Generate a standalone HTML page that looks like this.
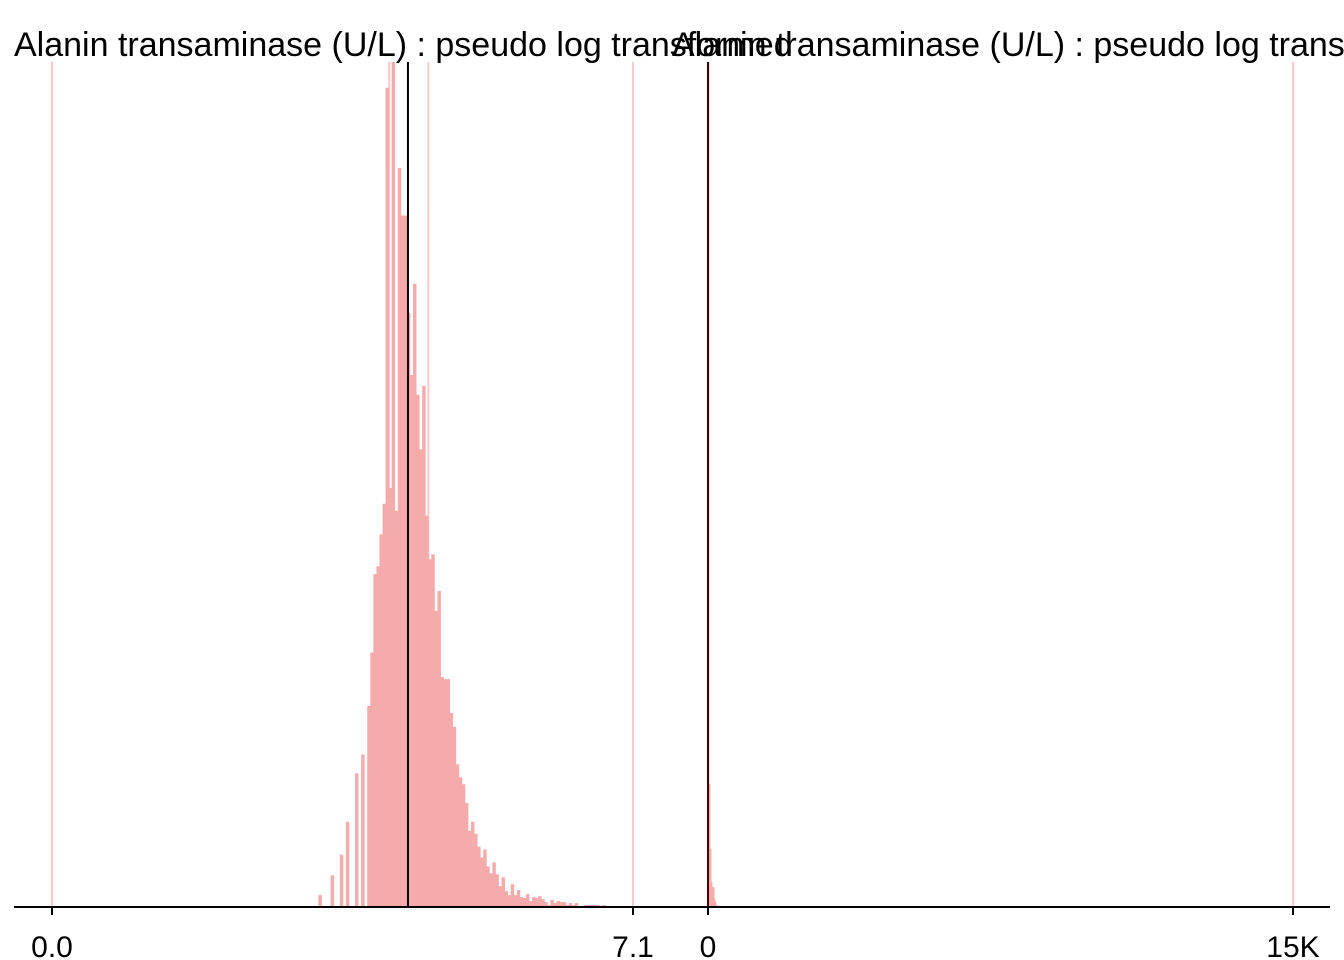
<!DOCTYPE html>
<html><head><meta charset="utf-8"><style>
html,body{margin:0;padding:0;background:#fff;}
svg{display:block;font-family:"Liberation Sans",Arial,sans-serif;}
</style></head><body>
<svg id="chart" width="1344" height="960" viewBox="0 0 1344 960" xmlns="http://www.w3.org/2000/svg">
<g id="left-panel"></g>
<g id="right-panel"></g>
<line x1="14" y1="907" x2="1330" y2="907" stroke="#000" stroke-width="2"/>
<text x="14" y="56" font-size="34">Alanin transaminase (U/L) : pseudo log transformed</text>
<text x="672" y="56" font-size="34">Alanin transaminase (U/L) : pseudo log transformed</text>
</svg>
<script>
// Left panel: pseudo-log transformed histogram
const leftDomain = [0, 7.1];
const leftTickValues = [0, 7.1];
const leftTickLabels = ["0.0", "7.1"];
const leftBinStart = 2.92;
const leftBinWidth = 0.0373;
const leftCounts = [0,1,0,0,0,0,0,0,0,12,0,0,0,32,0,0,53,0,86,0,0,135,0,154,0,203,257,336,344,376,407,827,423,853,400,746,698,698,600,537,629,517,462,526,395,351,356,299,319,232,230,230,196,182,144,131,124,105,77,86,74,61,50,58,41,34,45,33,21,30,16,12,23,12,17,10,9,13,6,10,9,11,8,5,2,7,4,6,5,5,2,4,2,4,0,0,2,2,2,2,2,0,2];
const leftRefLines = [0, 4.12, 4.6, 7.1];
const leftMedian = 4.35;

// Right panel: raw scale histogram
const rightDomain = [0, 15000];
const rightTickValues = [0, 15000];
const rightTickLabels = ["0", "15K"];
const rightBinWidth = 26;
const rightCounts = [860, 124, 59, 25, 20, 20, 8, 5, 2, 1, 1];
const rightRefLines = [0, 15000];
const rightMedian = 0;

const NS = "http://www.w3.org/2000/svg";
const baseY = 907, topY = 62;
const maxCount = 853, plotH = 845;
function yScale(c){ return baseY - c / maxCount * plotH; }
function mk(tag, attrs, parent){
  const el = document.createElementNS(NS, tag);
  for (const k in attrs) el.setAttribute(k, attrs[k]);
  parent.appendChild(el);
  return el;
}
function drawPanel(g, domain, px, counts, binStart, binWidth, refLines, median, ticks, labels, prefix){
  const xs = v => px[0] + (v - domain[0]) / (domain[1] - domain[0]) * (px[1] - px[0]);
  refLines.forEach(v => {
    const l = mk("line", {x1: xs(v), x2: xs(v), y1: topY, y2: baseY, stroke: "#ffc8c8", "stroke-width": 2}, g);
    
    
  });
  counts.forEach((c, i) => {
    if (c <= 0) return;
    const x0 = xs(binStart + i * binWidth), x1 = xs(binStart + (i + 1) * binWidth);
    const y = Math.max(topY, yScale(c));
    const r = mk("rect", {x: x0, y: y, width: Math.max(1, x1 - x0 + 0.4), height: baseY - y, fill: "#f5abab"}, g);
    
    
  });
  const m = mk("line", {x1: xs(median), x2: xs(median), y1: topY, y2: baseY, stroke: prefix === "right" ? "#4a0000" : "#000", "stroke-width": 2}, g);
  
  
  ticks.forEach((v, i) => {
    const t = mk("line", {x1: xs(v), x2: xs(v), y1: baseY, y2: 915, stroke: "#000", "stroke-width": 2}, g);
    
    
    const tx = mk("text", {x: xs(v), y: 957, "font-size": 30, "text-anchor": "middle"}, g);
    tx.textContent = labels[i];
    
    
  });
}
drawPanel(document.getElementById("left-panel"), leftDomain, [52, 633], leftCounts, leftBinStart, leftBinWidth, leftRefLines, leftMedian, leftTickValues, leftTickLabels, "left");
drawPanel(document.getElementById("right-panel"), rightDomain, [708, 1293], rightCounts, 0, rightBinWidth, rightRefLines, rightMedian, rightTickValues, rightTickLabels, "right");
</script>
</body></html>
